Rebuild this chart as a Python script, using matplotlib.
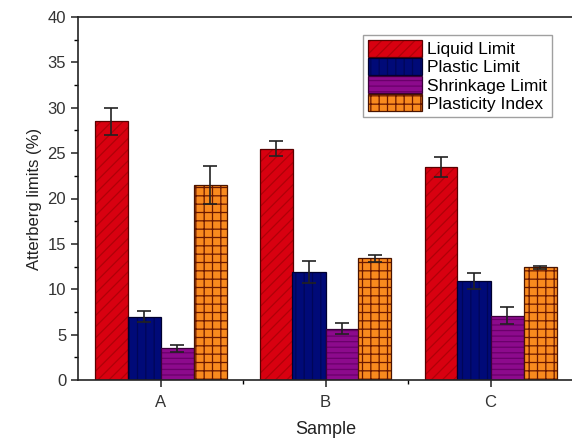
import matplotlib
matplotlib.use("Agg")
import matplotlib.pyplot as plt
import numpy as np
from matplotlib.ticker import MultipleLocator

plt.rcParams['font.family'] = ['Liberation Sans', 'DejaVu Sans']
plt.rcParams['hatch.linewidth'] = 0.9

samples = ['A', 'B', 'C']
series = ['Liquid Limit', 'Plastic Limit', 'Shrinkage Limit', 'Plasticity Index']
liquid = [28.5, 25.5, 23.5]
liquid_err = [1.5, 0.8, 1.1]
plastic = [6.95, 11.9, 10.9]
plastic_err = [0.6, 1.2, 0.85]
shrink = [3.5, 5.65, 7.1]
shrink_err = [0.4, 0.6, 0.9]
pindex = [21.5, 13.4, 12.4]
pindex_err = [2.1, 0.4, 0.15]

values = [liquid, plastic, shrink, pindex]
errors = [liquid_err, plastic_err, shrink_err, pindex_err]
faces = ['#d80010', '#000a78', '#8c0a8c', '#f98a1e']
hatch_cols = ['#b00008', '#000658', '#6a006a', '#6a1800']
edges = ['#5a0000', '#00002e', '#3a003a', '#4a1400']
hatches = ['///', '||', '---', '++']

fig = plt.figure(figsize=(5.72, 4.38), dpi=100)
ax = fig.add_axes([78/572, 58/438, 495/572, 363/438])

x = np.arange(1, len(samples) + 1)
w = 0.2
offs = [-1.5, -0.5, 0.5, 1.5]
handles = []
for v, e, fc, hc, ec, h, o in zip(values, errors, faces, hatch_cols, edges, hatches, offs):
    b1 = ax.bar(x + o * w, v, width=w, color=fc, edgecolor=hc, hatch=h, linewidth=0)
    b2 = ax.bar(x + o * w, v, width=w, fill=False, edgecolor=ec, linewidth=0.9,
                yerr=e, capsize=5,
                error_kw=dict(ecolor='#222222', elinewidth=1.2, capthick=1.2))
    handles.append((b1.patches[0], b2.patches[0]))

ax.set_xlim(0.5, 3.5)
ax.set_ylim(0, 40)
ax.set_xticks(x)
ax.set_xticklabels(samples)
ax.set_xticks([1.5, 2.5], minor=True)
ax.yaxis.set_major_locator(MultipleLocator(5))
ax.yaxis.set_minor_locator(MultipleLocator(2.5))
ax.tick_params(axis='both', which='major', direction='out', length=5, width=1.2, labelsize=12, colors='#333333')
ax.tick_params(axis='both', which='minor', direction='out', length=3, width=1.0)
ax.tick_params(axis='x', which='major', pad=6)
for s in ax.spines.values():
    s.set_linewidth(1.2)
    s.set_color('#222222')

ax.set_ylabel('Atterberg limits (%)', fontsize=12, color='#222222')
ax.set_xlabel('Sample', fontsize=13, color='#222222', labelpad=8)

leg = ax.legend(handles, series, loc='upper right', bbox_to_anchor=(0.968, 0.965), fontsize=12.5,
                frameon=True, fancybox=False, edgecolor='#888888',
                handlelength=3.1, handleheight=1.1, labelspacing=0.05,
                borderpad=0.3, handletextpad=0.3, borderaxespad=0.3)
leg.get_frame().set_linewidth(1.0)

fig.savefig('out.png', dpi=100)
